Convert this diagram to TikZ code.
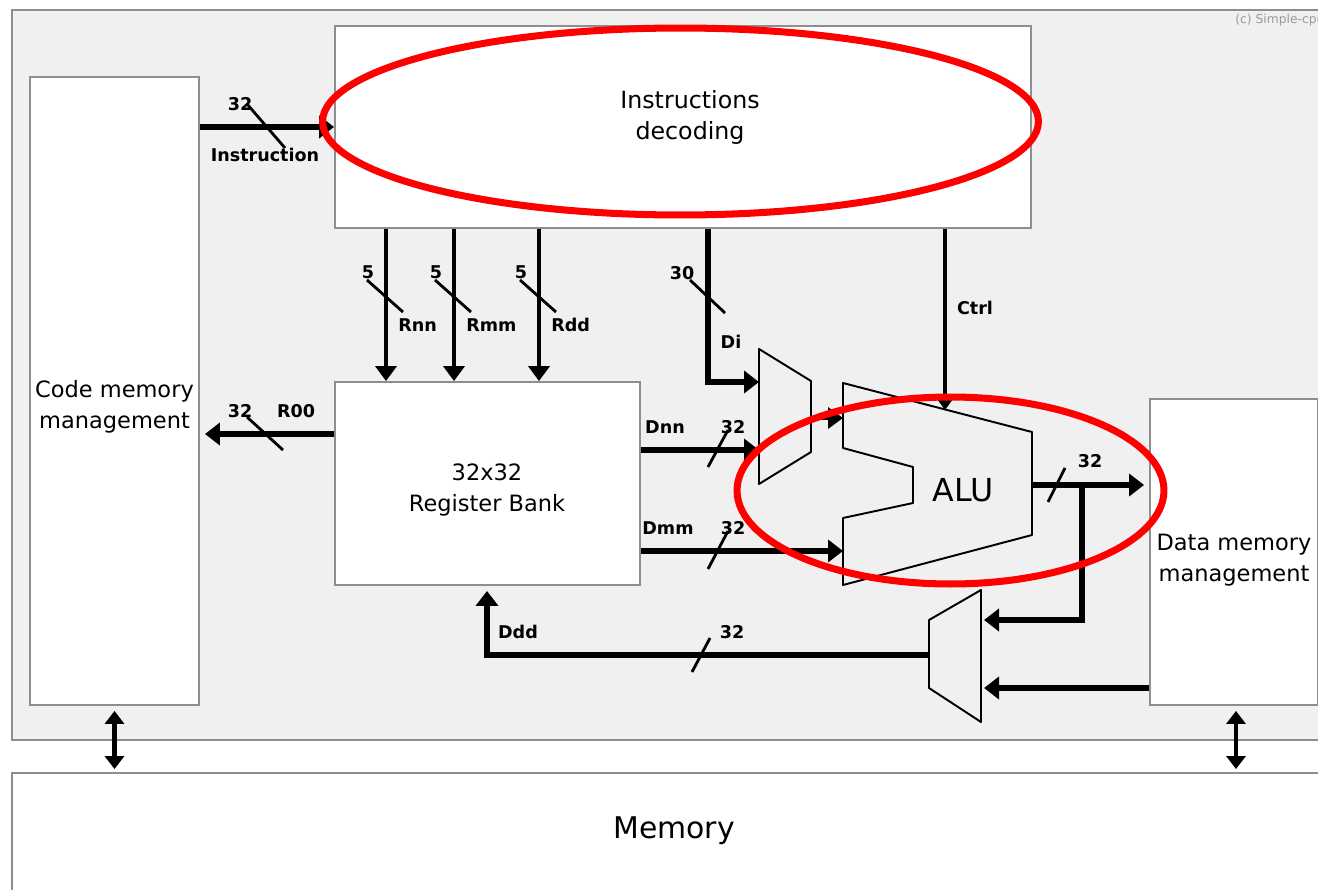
\documentclass[tikz,border=0pt]{standalone}
\usepackage{fontspec}
\setmainfont{DejaVu Sans}
\usepackage{xcolor}
\usepackage{tikz}
\usetikzlibrary{arrows.meta}
\definecolor{panel}{HTML}{F0F0F0}
\definecolor{frame}{HTML}{8E8E8E}

\begin{document}
\begin{tikzpicture}[x=0.02cm, y=-0.02cm, every node/.style={align=center},
box/.style={draw=frame, line width=1.1pt, fill=white, inner sep=0pt},
txt/.style={font=\fontsize{12.8}{17.5}\selectfont},
lab/.style={font=\fontsize{10}{11}\selectfont\bfseries, inner sep=0pt},
bus/.style={line width=3.6pt, -{Triangle[length=0.3cm,width=0.44cm]}},
sig/.style={line width=2.3pt, -{Triangle[length=0.3cm,width=0.42cm]}},
memlink/.style={line width=2.8pt, {Triangle[length=0.26cm,width=0.38cm]}-{Triangle[length=0.26cm,width=0.38cm]}, shorten <=0.1cm, shorten >=0.06cm},
busmark/.style={line width=1.6pt},
blockline/.style={line width=1.1pt, line join=round},
ring/.style={draw=red, line width=4pt}]
\useasboundingbox (0,0) rectangle (1318,889);
\draw[frame, fill=panel, line width=1.1pt] (12,10) rectangle (1340,740);
\node[anchor=west, text=gray!80, font=\fontsize{7}{8}\selectfont, inner sep=0pt] (copy) at (1235,20) {(c) Simple-cpu};

\node[box, minimum width=3.38cm, minimum height=12.56cm] (code) at (114.5,391) {};
\node[txt] (codetext) at (114.5,407) {Code memory\\management};
\node[box, minimum width=13.92cm, minimum height=4.04cm] (dec) at (683,127) {};
\node[font=\fontsize{13.5}{17.6}\selectfont] (dectext) at (690,117) {Instructions\\decoding};
\node[box, minimum width=6.1cm, minimum height=4.06cm] (reg) at (487.5,483.5) {};
\node[txt] (regtext) at (487,490) {32x32\\Register Bank};
\node[box, minimum width=3.36cm, minimum height=6.12cm] (data) at (1234,552) {};
\node[txt] (datatext) at (1234,560) {Data memory\\management};
\node[box, minimum width=26.56cm, minimum height=2.44cm] (mem) at (676,834) {};
\node[font=\fontsize{17}{20}\selectfont] (memtext) at (674,831) {Memory};

\draw[blockline] (843,383) -- (1032,432) -- (1032,535) -- (843,585) -- (843,518) -- (913,503) -- (913,467) -- (843,448) -- cycle;
\node[font=\fontsize{18}{20}\selectfont] (alu) at (963,490) {ALU};
\draw[blockline] (759,349) -- (811,381) -- (811,452) -- (759,484) -- cycle;
\draw[blockline] (929,620) -- (981,590) -- (981,722) -- (929,688) -- cycle;
\coordinate (mxa) at (759,382);
\coordinate (mxb) at (759,450);
\coordinate (mxo) at (811,418);
\coordinate (alua) at (843,418);
\coordinate (alub) at (843,551);
\coordinate (aluc) at (945,410);
\coordinate (aluo) at (1032,485);
\coordinate (split) at (1082,485);
\coordinate (mya) at (981,620);
\coordinate (myb) at (981,688);
\coordinate (myo) at (929,655);

\draw[bus] (code.east |- dec.west) -- (dec.west);
\draw[busmark] (247,104) -- (285,148);
\node[lab] (w1) at (240,104) {32};
\node[lab] (n1) at (265,155) {Instruction};

\foreach \x/\n in {386/Rnn,454/Rmm,539/Rdd} {
  \draw[sig] (dec.south -| \x,0) -- (reg.north -| \x,0);
  \draw[busmark] (\x-19,280) -- (\x+17,312);
  \node[lab] (w\n) at (\x-18,272) {5};
  \node[lab, anchor=west] (n\n) at (\x+12,325) {\n};
}

\draw[bus, shorten >=0.1cm] (reg.west |- 0,434) -- (code.east |- 0,434);
\draw[busmark] (247,417) -- (283,450);
\node[lab] (w2) at (240,411) {32};
\node[lab] (n2) at (296,411) {R00};

\draw[bus] (dec.south -| 708,0) |- (mxa);
\draw[busmark] (690,280) -- (725,313);
\node[lab] (w3) at (682,273) {30};
\node[lab] (n3) at (731,342) {Di};

\draw[sig] (dec.south -| aluc) -- (aluc);
\node[lab] (n4) at (975,308) {Ctrl};
\draw[sig] (mxo) -- (alua);

\draw[bus] (reg.east |- mxb) -- (mxb);
\draw[busmark] (708,467) -- (728,430);
\node[lab] (n5) at (665,427) {Dnn};
\node[lab] (w5) at (733,427) {32};

\draw[bus] (reg.east |- alub) -- (alub);
\draw[busmark] (708,569) -- (728,531);
\node[lab] (n6) at (668,528) {Dmm};
\node[lab] (w6) at (733,528) {32};

\draw[bus, shorten >=0.1cm] (aluo) -- (data.west |- aluo);
\draw[busmark] (1048,502) -- (1065,468);
\node[lab] (w7) at (1090,461) {32};
\draw[bus, shorten >=0.06cm] (split) |- (mya);
\draw[bus, shorten >=0.06cm] (data.west |- myb) -- (myb);

\draw[bus, shorten >=0.1cm] (myo) -| (reg.south -| 487,0);
\draw[busmark] (692,672) -- (710,638);
\node[lab] (n8) at (518,632) {Ddd};
\node[lab] (w8) at (732,632) {32};

\draw[memlink] (code.south) -- (code.south |- mem.north);
\draw[memlink] (data.south -| 1236,0) -- (mem.north -| 1236,0);

\draw[ring] (680.5,121.5) ellipse [x radius=7.16cm, y radius=1.87cm];
\draw[ring] (950.5,490.5) ellipse [x radius=4.27cm, y radius=1.87cm];
\end{tikzpicture}
\end{document}
